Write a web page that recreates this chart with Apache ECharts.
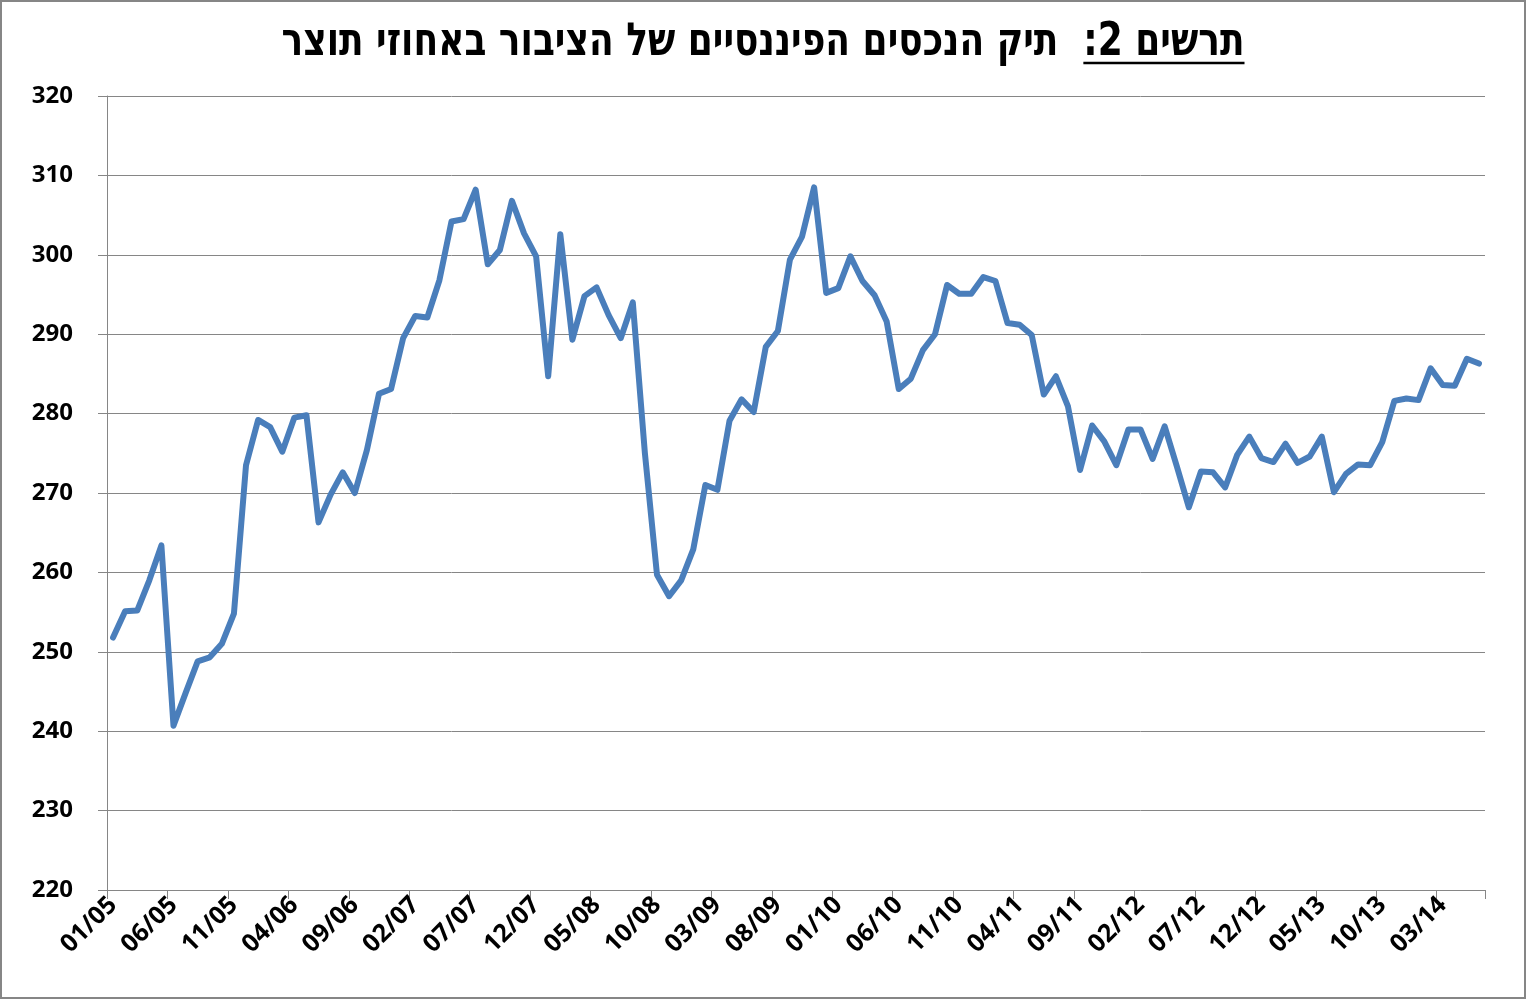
<!DOCTYPE html>
<html>
<head>
<meta charset="utf-8">
<script src="https://cdn.jsdelivr.net/npm/echarts@6/dist/echarts.min.js"></script>
<style>
  html, body { margin: 0; padding: 0; background: #fff; }
  #root { width: 1526px; height: 999px; }
</style>
</head>
<body>
<div id="root"></div>
<script>
// series: public financial assets portfolio, % of GDP, monthly from 01/05
const startYear = 2005
const startMonth = 1
const values = [
  251.8, 255.1, 255.2, 259.0, 263.4, 240.7, 244.8, 248.8, 249.3, 251.0, 254.8, 273.5,
  279.2, 278.3, 275.2, 279.5, 279.8, 266.3, 269.8, 272.6, 270.0, 275.4, 282.5, 283.1,
  289.5, 292.3, 292.1, 296.8, 304.2, 304.5, 308.2, 298.8, 300.6, 306.8, 302.7, 299.8,
  284.7, 302.6, 289.3, 294.8, 295.9, 292.4, 289.5, 294.0, 275.0, 259.7, 257.0, 259.0,
  262.9, 271.0, 270.4, 279.1, 281.8, 280.2, 288.4, 290.4, 299.4, 302.3, 308.5, 295.2,
  295.8, 299.8, 296.7, 294.9, 291.6, 283.1, 284.4, 288.0, 290.0, 296.2, 295.1, 295.1,
  297.2, 296.7, 291.4, 291.2, 289.9, 282.4, 284.7, 280.9, 272.9, 278.5, 276.5, 273.5,
  278.0, 278.0, 274.3, 278.4, 273.4, 268.2, 272.7, 272.6, 270.7, 274.8, 277.1, 274.4,
  273.9, 276.2, 273.8, 274.6, 277.1, 270.1, 272.4, 273.6, 273.5, 276.4, 281.6, 281.9,
  281.7, 285.7, 283.6, 283.5, 286.9, 286.3
]

const titleLead = 'תרשים 2:'
const titleRest = 'תיק הנכסים הפיננסיים של הציבור באחוזי תוצר'

// month labels MM/YY
const categories = []
for (let i = 0; i < values.length; i++) {
  const m = (startMonth - 1 + i) % 12 + 1
  const y = startYear + Math.floor((startMonth - 1 + i) / 12)
  categories.push(String(m).padStart(2, '0') + '/' + String(y % 100).padStart(2, '0'))
}

const W = 1526
const H = 999
const gray = '#868686'
const labelFont = '"Open Sans", "DejaVu Sans", sans-serif'

// title is drawn as graphic text so the lead part can be underlined
const titleFont = 'bold 46px "DejaVu Sans", "Liberation Sans", sans-serif'
const titleText = titleLead + '  ' + titleRest
const ctx = document.createElement('canvas').getContext('2d')
ctx.font = titleFont
const titleW = ctx.measureText(titleText).width
const leadW = ctx.measureText(titleLead).width
const titleTarget = 963
const titleScale = titleTarget / titleW
const titleRight = W / 2 + titleTarget / 2

const chart = echarts.init(document.getElementById('root'))

const option = {
  backgroundColor: '#fff',
  animation: false,
  grid: { left: 107, right: 41, top: 96, bottom: 109 },
  xAxis: {
    type: 'category',
    data: categories,
    boundaryGap: true,
    axisLine: { lineStyle: { color: gray, width: 1 } },
    axisTick: { show: true, interval: 4, length: 9, lineStyle: { color: gray } },
    axisLabel: {
      interval: 4,
      rotate: 45,
      margin: 11,
      color: '#000',
      fontFamily: labelFont,
      fontWeight: 'bold',
      fontSize: 25
    },
    splitLine: { show: false }
  },
  yAxis: {
    type: 'value',
    min: 220,
    max: 320,
    interval: 10,
    axisLine: { show: true, lineStyle: { color: gray, width: 1 } },
    axisTick: { show: true, length: 9, lineStyle: { color: gray } },
    axisLabel: {
      margin: 34,
      color: '#000',
      fontFamily: labelFont,
      fontWeight: 'bold',
      fontSize: 24
    },
    splitLine: { show: true, lineStyle: { color: gray, width: 1 } }
  },
  series: [{
    type: 'line',
    data: values,
    showSymbol: false,
    symbol: 'none',
    lineStyle: { color: '#4a7ebb', width: 6, join: 'round', cap: 'round' },
    itemStyle: { color: '#4a7ebb' }
  }],
  graphic: [
    {
      type: 'rect',
      silent: true,
      shape: { x: 1, y: 1, width: W - 2, height: H - 2 },
      style: { fill: 'none', stroke: gray, lineWidth: 2 }
    },
    {
      type: 'text',
      silent: true,
      x: W / 2,
      y: 43,
      scaleX: titleScale,
      style: {
        text: titleText,
        font: titleFont,
        fill: '#000',
        align: 'center',
        verticalAlign: 'middle'
      }
    },
    {
      type: 'line',
      silent: true,
      shape: { x1: titleRight - leadW * titleScale, y1: 63, x2: titleRight, y2: 63 },
      style: { stroke: '#000', lineWidth: 2.5 }
    }
  ]
}

chart.setOption(option)
</script>
</body>
</html>
